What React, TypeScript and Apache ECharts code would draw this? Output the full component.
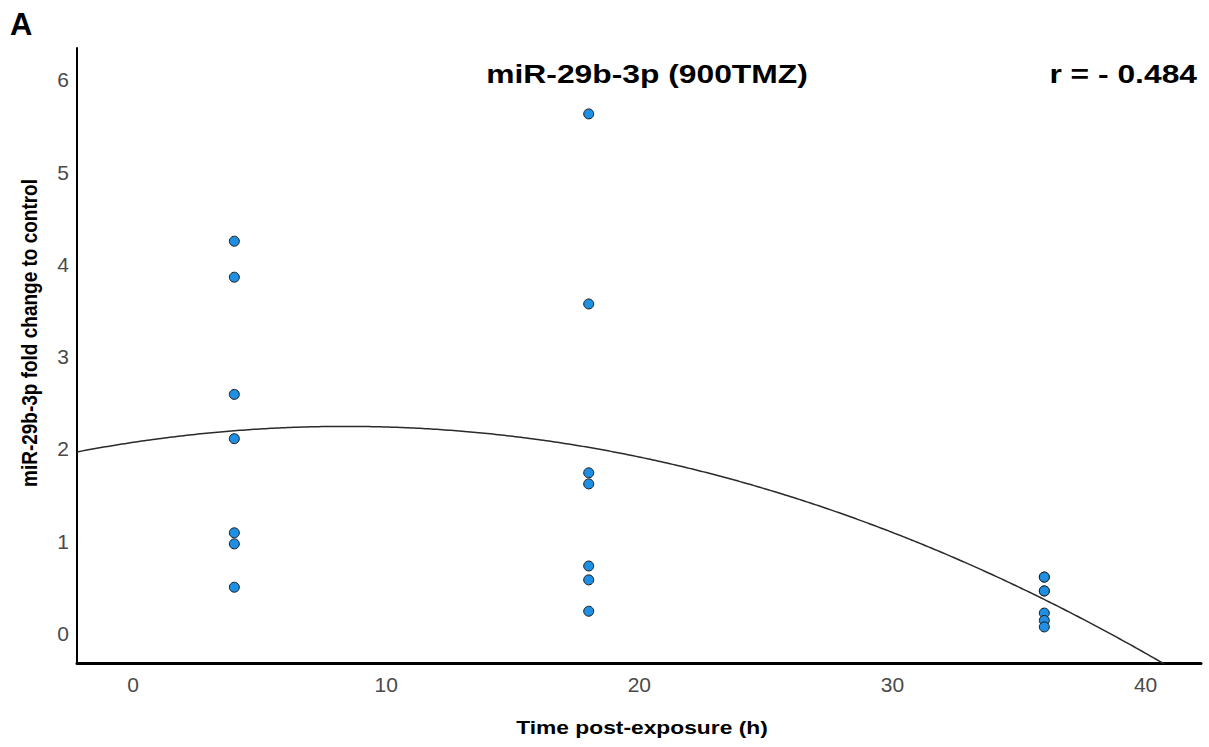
import React, { useEffect, useRef } from "react";
import * as echarts from "echarts";

// ---- data ----
const timePoints = [4, 18, 36]; // hours post-exposure
const fold4h = [4.25, 3.86, 2.59, 2.11, 1.09, 0.97, 0.5];
const fold18h = [5.63, 3.57, 1.74, 1.62, 0.73, 0.58, 0.24];
const fold36h = [0.61, 0.61, 0.46, 0.46, 0.22, 0.14, 0.07];
const xTickValues = [0, 10, 20, 30, 40];
const yTickValues = [0, 1, 2, 3, 4, 5, 6];
const titleText = "miR-29b-3p (900TMZ)";
const corrText = "r = - 0.484";
const panelLetter = "A";
const xAxisTitle = "Time post-exposure (h)";
const yAxisTitle = "miR-29b-3p fold change to control";

const X_MIN = -2.216;
const X_MAX = 42.19;
const Y_MIN = -0.321;
const Y_MAX = 6.344;

const FONT = '"Liberation Sans", Arial, Helvetica, sans-serif';

// least-squares quadratic fit y = a + b x + c x^2
function quadFit(xs: number[], ys: number[]): number[] {
  const S = [0, 0, 0, 0, 0];
  const T = [0, 0, 0];
  for (let i = 0; i < xs.length; i++) {
    let p = 1;
    for (let k = 0; k < 5; k++) {
      S[k] += p;
      if (k < 3) T[k] += p * ys[i];
      p *= xs[i];
    }
  }
  const M = [
    [S[0], S[1], S[2], T[0]],
    [S[1], S[2], S[3], T[1]],
    [S[2], S[3], S[4], T[2]],
  ];
  for (let col = 0; col < 3; col++) {
    let piv = col;
    for (let r = col + 1; r < 3; r++) if (Math.abs(M[r][col]) > Math.abs(M[piv][col])) piv = r;
    [M[col], M[piv]] = [M[piv], M[col]];
    for (let r = 0; r < 3; r++) {
      if (r === col) continue;
      const f = M[r][col] / M[col][col];
      for (let k = col; k < 4; k++) M[r][k] -= f * M[col][k];
    }
  }
  return [M[0][3] / M[0][0], M[1][3] / M[1][1], M[2][3] / M[2][2]];
}

export default function App() {
  const ref = useRef<HTMLDivElement>(null);

  useEffect(() => {
    if (!ref.current) return;
    const chart = echarts.init(ref.current, undefined, { renderer: "svg" });

    const groups = [fold4h, fold18h, fold36h];
    const points: number[][] = [];
    const xs: number[] = [];
    const ys: number[] = [];
    groups.forEach((g, gi) => {
      g.forEach((v) => {
        points.push([timePoints[gi], v]);
        xs.push(timePoints[gi]);
        ys.push(v);
      });
    });
    const [a, b, c] = quadFit(xs, ys);
    const curve: number[][] = [];
    const N = 400;
    for (let i = 0; i <= N; i++) {
      const x = X_MIN + ((X_MAX - X_MIN) * i) / N;
      curve.push([x, a + b * x + c * x * x]);
    }

    const labelStyle = {
      fontSize: 21,
      color: "#4a4a4a",
      fontFamily: FONT,
    };

    chart.setOption({
      animation: false,
      backgroundColor: "#ffffff",
      grid: { left: 77, right: 8, top: 48, bottom: 84, containLabel: false },
      xAxis: {
        type: "value",
        min: X_MIN,
        max: X_MAX,
        axisLine: { show: true, onZero: false, lineStyle: { color: "#000", width: 3 } },
        axisTick: { show: false },
        splitLine: { show: false },
        axisLabel: { ...labelStyle, margin: 11, customValues: xTickValues },
      },
      yAxis: {
        type: "value",
        min: Y_MIN,
        max: Y_MAX,
        axisLine: { show: true, onZero: false, lineStyle: { color: "#000", width: 2 } },
        axisTick: { show: false },
        splitLine: { show: false },
        axisLabel: { ...labelStyle, margin: 8, customValues: yTickValues },
      },
      series: [
        {
          type: "line",
          data: curve,
          showSymbol: false,
          symbol: "none",
          clip: true,
          lineStyle: { color: "#2a2a2a", width: 1.5 },
          z: 2,
        },
        {
          type: "scatter",
          data: points,
          symbol: "circle",
          symbolSize: 10,
          itemStyle: { color: "#1f8fe3", borderColor: "#1b1b1b", borderWidth: 1, opacity: 1 },
          z: 3,
        },
      ],
      graphic: [
        {
          type: "text",
          x: 10,
          y: 24,
          style: {
            text: panelLetter,
            fontSize: 31,
            fontWeight: "bold",
            fontFamily: FONT,
            fill: "#000",
            align: "left",
            verticalAlign: "middle",
          },
        },
        {
          type: "text",
          x: 647,
          y: 74,
          scaleX: 1.2,
          style: {
            text: titleText,
            fontSize: 26.5,
            fontWeight: "bold",
            fontFamily: FONT,
            fill: "#000",
            align: "center",
            verticalAlign: "middle",
          },
        },
        {
          type: "text",
          x: 1197,
          y: 73.5,
          scaleX: 1.2,
          style: {
            text: corrText,
            fontSize: 26.5,
            fontWeight: "bold",
            fontFamily: FONT,
            fill: "#000",
            align: "right",
            verticalAlign: "middle",
          },
        },
        {
          type: "text",
          x: 642,
          y: 727,
          scaleX: 1.2,
          style: {
            text: xAxisTitle,
            fontSize: 19,
            fontWeight: "bold",
            fontFamily: FONT,
            fill: "#000",
            align: "center",
            verticalAlign: "middle",
          },
        },
        {
          type: "group",
          x: 29,
          y: 333,
          scaleX: 1.2,
          children: [
            {
              type: "text",
              rotation: Math.PI / 2,
              style: {
                text: yAxisTitle,
                fontSize: 19,
                fontWeight: "bold",
                fontFamily: FONT,
                fill: "#000",
                align: "center",
                verticalAlign: "middle",
              },
            },
          ],
        },
      ],
    });

    return () => chart.dispose();
  }, []);

  return (
    <div
      ref={ref}
      style={{ position: "absolute", left: 0, top: 0, width: 1209, height: 747 }}
    />
  );
}
